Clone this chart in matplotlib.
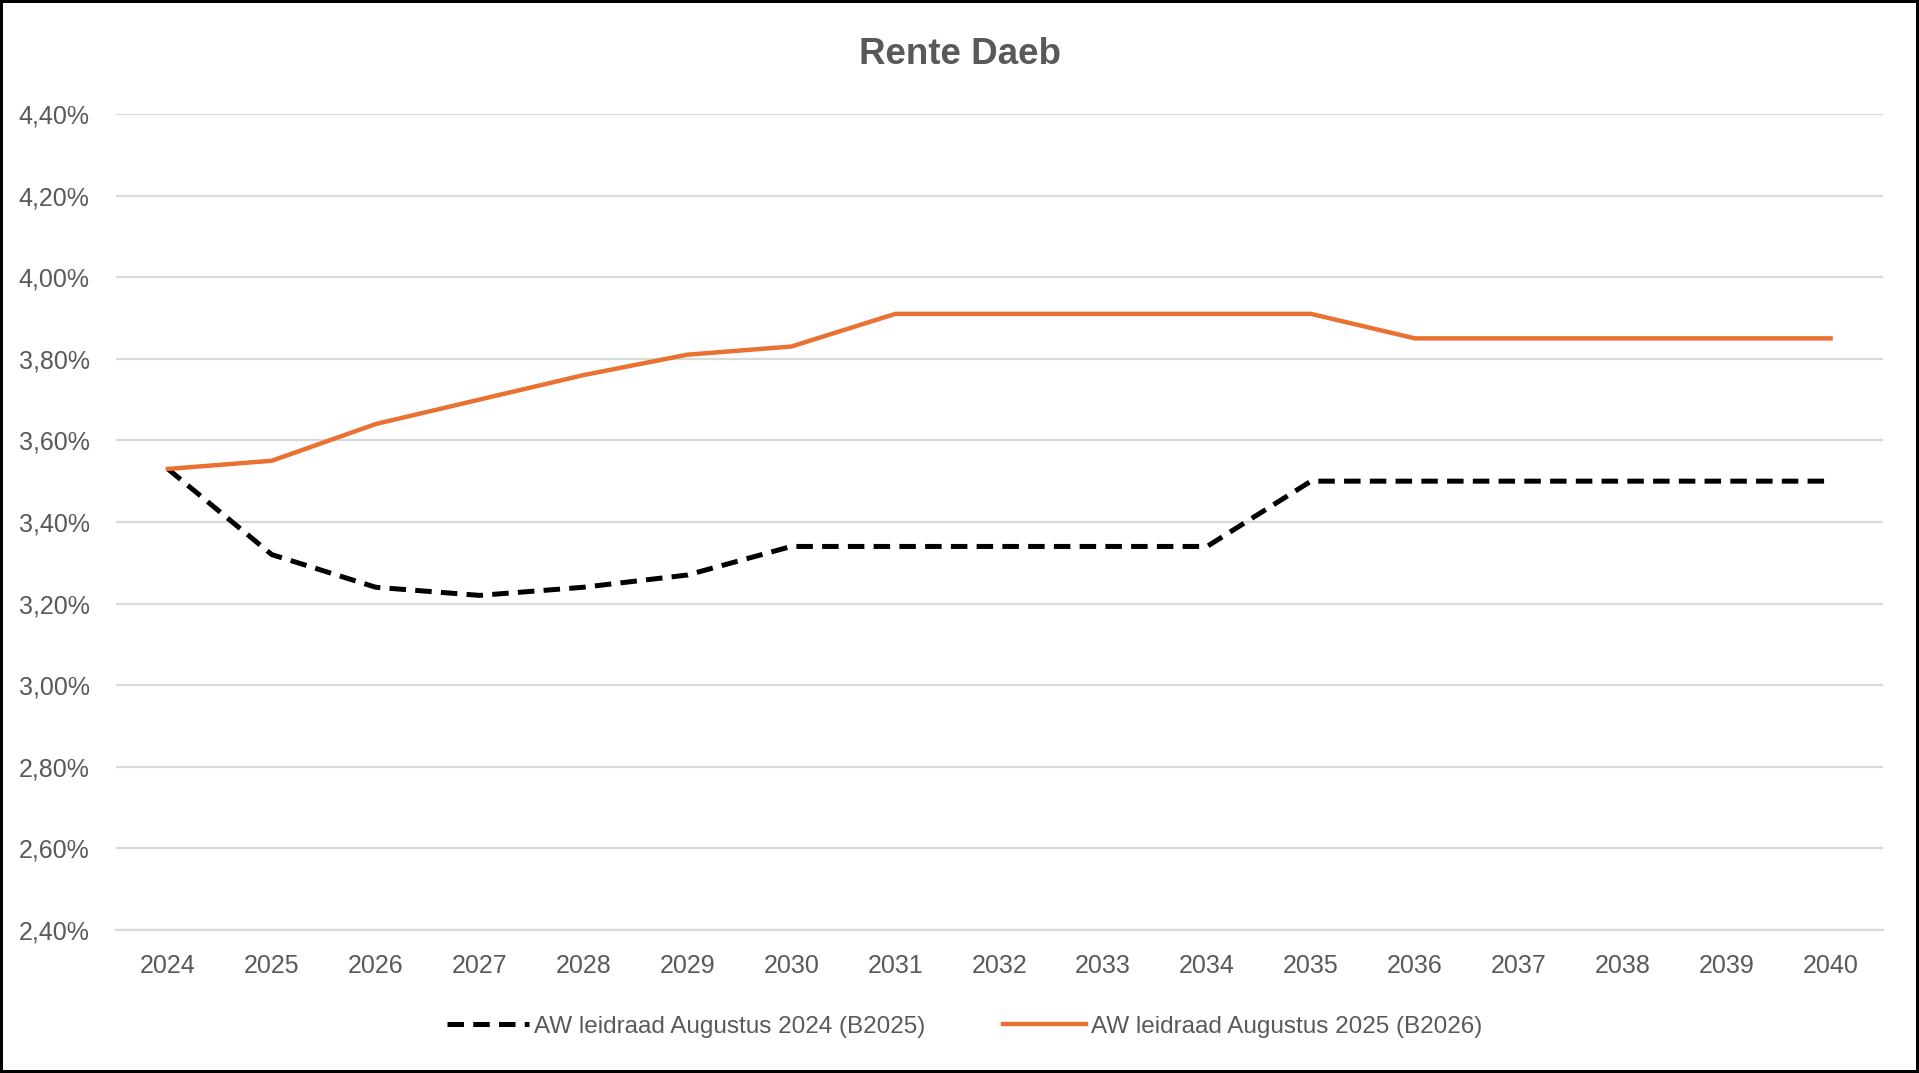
import matplotlib
matplotlib.use("Agg")

import matplotlib.pyplot as plt
from matplotlib.ticker import FuncFormatter, MultipleLocator

# data (rente in %)
years = [str(y) for y in range(2024, 2041)]
aw_2024 = [3.53, 3.32, 3.24, 3.22, 3.24, 3.27, 3.34, 3.34, 3.34, 3.34, 3.34,
           3.50, 3.50, 3.50, 3.50, 3.50, 3.50]
aw_2025 = [3.53, 3.55, 3.64, 3.70, 3.76, 3.81, 3.83, 3.91, 3.91, 3.91, 3.91,
           3.91, 3.85, 3.85, 3.85, 3.85, 3.85]
labels = ["AW leidraad Augustus 2024 (B2025)", "AW leidraad Augustus 2025 (B2026)"]

grey = "#595959"
orange = "#E97132"

plt.rcParams["font.family"] = ["Liberation Sans", "DejaVu Sans"]

fig = plt.figure(figsize=(19.19, 10.73), dpi=100)
fig.patch.set_edgecolor("black")
fig.patch.set_linewidth(4)
ax = fig.add_axes([0.0604, 0.1333, 0.9206, 0.7605])

x = list(range(len(years)))
ax.plot(x, aw_2024, color="black", lw=3.6, dashes=(3.3, 1.85),
        solid_capstyle="butt", label=labels[0], zorder=3)
ax.plot(x, aw_2025, color=orange, lw=3.2, label=labels[1], zorder=3)

ax.set_xlim(-0.5, len(years) - 0.5)
ax.set_ylim(2.40, 4.40)
ax.yaxis.set_major_locator(MultipleLocator(0.2))
ax.yaxis.set_major_formatter(FuncFormatter(lambda v, p: f"{v:.2f}%".replace(".", ",")))
ax.set_xticks(x)
ax.set_xticklabels(years)

ax.grid(axis="y", color="#d9d9d9", lw=1.6, zorder=0)
for s in ["top", "right", "left"]:
    ax.spines[s].set_visible(False)
ax.spines["bottom"].set_color("#d9d9d9")
ax.spines["bottom"].set_linewidth(1.6)
ax.tick_params(axis="both", length=0, colors=grey, labelsize=18)
ax.tick_params(axis="y", pad=19)
ax.tick_params(axis="x", pad=17)

fig.text(0.5, 0.949, "Rente Daeb", ha="center", va="center",
         fontsize=26.5, fontweight="bold", color=grey)

leg = fig.legend(loc="center", bbox_to_anchor=(0.5026, 0.043), ncol=2,
                 frameon=False, fontsize=17.5, handlelength=3.4,
                 handletextpad=0.2, columnspacing=3.2)
for t in leg.get_texts():
    t.set_color(grey)

fig.savefig("out.png", dpi=100, edgecolor=fig.get_edgecolor())
plt.close(fig)
